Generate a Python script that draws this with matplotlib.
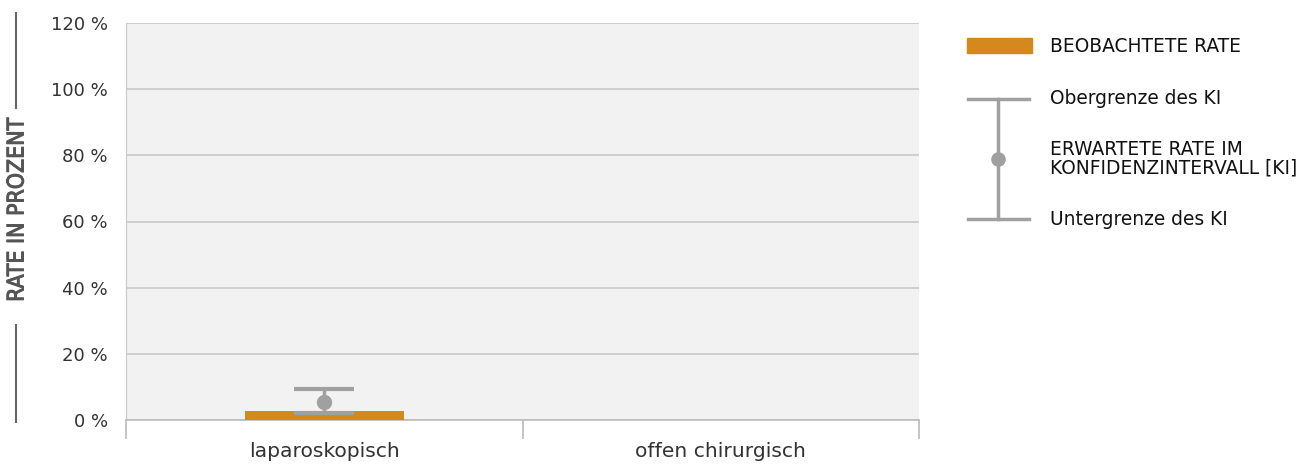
import matplotlib.pyplot as plt
import matplotlib.patheffects as pe
from matplotlib.lines import Line2D
from matplotlib.patches import Rectangle

categories = ["laparoskopisch", "offen chirurgisch"]
observed = [2.7, 0.0]
expected = [5.5, None]
ci_lower = [2.1, None]
ci_upper = [9.4, None]
yticks = [0, 20, 40, 60, 80, 100, 120]

orange = "#d4891c"
grey = "#a0a0a0"

fig = plt.figure(figsize=(13.11, 4.66), dpi=100)
ax = fig.add_axes([126 / 1311, 1 - 420 / 466, (919 - 126) / 1311, (420 - 23) / 466])
ax.set_facecolor("#f2f2f2")

x = list(range(len(categories)))
ax.bar(x, observed, width=0.4, color=orange, zorder=3)
for xi, e, lo, hi in zip(x, expected, ci_lower, ci_upper):
    if e is None:
        continue
    ax.errorbar([xi], [e], yerr=[[e - lo], [hi - e]], fmt="o", color=grey,
                ms=10, elinewidth=2.5, capsize=21.6, capthick=3, zorder=4)

ax.set_xlim(-0.5, 1.5)
ax.set_ylim(0, 120)
ax.set_yticks(yticks)
ax.set_yticklabels([f"{v} %" for v in yticks], fontsize=13, color="#333333")
ax.yaxis.grid(True, color="#c8c8c8", linewidth=1.2, zorder=0)
ax.set_axisbelow(True)
ax.tick_params(axis="y", length=0, pad=13)

ax.set_xticks([-0.5, 0.5, 1.5])
ax.set_xticklabels([])
ax.tick_params(axis="x", length=14, color="#bbbbbb", width=1.2)
for xi, c in zip(x, categories):
    ax.text(xi, -0.055, c, transform=ax.get_xaxis_transform(), ha="center", va="top",
            fontsize=14.6, color="#333333")

for s in ["top", "right"]:
    ax.spines[s].set_visible(False)
ax.spines["left"].set_color("#c8c8c8")
ax.spines["bottom"].set_color("#bbbbbb")
ax.spines["bottom"].set_linewidth(1.2)

# y label with lines
def fx(px):
    return px / 1311

def fy(py):
    return 1 - py / 466

fig.text(fx(17), fy(210), "RATE IN PROZENT", rotation=90, ha="center", va="center",
         fontsize=16.5, color="#555555", family="DejaVu Sans", fontstretch="condensed",
         path_effects=[pe.withStroke(linewidth=0.7, foreground="#555555")])
fig.add_artist(Line2D([fx(16), fx(16)], [fy(13), fy(108)], color="#666666", lw=1.5))
fig.add_artist(Line2D([fx(16), fx(16)], [fy(325), fy(422)], color="#666666", lw=1.5))

# legend
fig.add_artist(Rectangle((fx(967), fy(53)), fx(65), 15 / 466, color=orange))
fig.add_artist(Line2D([fx(998), fx(998)], [fy(99), fy(219)], color=grey, lw=2.5))
fig.add_artist(Line2D([fx(968), fx(1029)], [fy(99), fy(99)], color=grey, lw=2.5))
fig.add_artist(Line2D([fx(968), fx(1029)], [fy(219), fy(219)], color=grey, lw=2.5))
fig.add_artist(Line2D([fx(998)], [fy(159)], color=grey, marker="o", ms=9.5))
leg_kw = dict(fontsize=13.4, color="#111111", va="center", ha="left")
fig.text(fx(1050), fy(46), "BEOBACHTETE RATE", **leg_kw)
fig.text(fx(1050), fy(99), "Obergrenze des KI", **leg_kw)
fig.text(fx(1050), fy(159), "ERWARTETE RATE IM\nKONFIDENZINTERVALL [KI]", linespacing=0.95, **leg_kw)
fig.text(fx(1050), fy(219), "Untergrenze des KI", **leg_kw)

fig.savefig("out.png", dpi=100)
